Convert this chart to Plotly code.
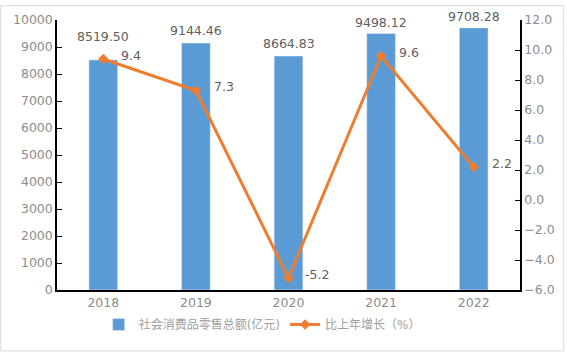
import plotly.graph_objects as go

years = ["2018", "2019", "2020", "2021", "2022"]
sales = [8519.50, 9144.46, 8664.83, 9498.12, 9708.28]
growth = [9.4, 7.3, -5.2, 9.6, 2.2]
bar_name = "社会消费品零售总额(亿元)"
line_name = "比上年增长（%）"

FONT = "DejaVu Sans, Noto Sans CJK SC, sans-serif"
BLUE = "#5B9BD5"
ORANGE = "#ED7D31"
TICK = "#8C8C8C"
LEG = "#A0A0A0"
LABEL = "#606060"

W, H = 567, 353
ML, MR, MT, MB = 57, 45, 15, 63
PW, PH = W - ML - MR, H - MT - MB

xi = list(range(len(years)))

fig = go.Figure()
fig.add_trace(go.Bar(x=xi, y=sales, name=bar_name, marker_color=BLUE,
                     width=0.31, yaxis="y"))
fig.add_trace(go.Scatter(x=xi, y=growth, name=line_name, mode="lines+markers",
                         line=dict(color=ORANGE, width=3),
                         marker=dict(symbol="diamond", size=8, color=ORANGE),
                         yaxis="y2"))

bar_label_shift = [14, 3, 3, 2, 2]
for x, v, s in zip(xi, sales, bar_label_shift):
    fig.add_annotation(x=x, xref="x", y=v, yref="y", text=f"{v:.2f}", showarrow=False,
                       yanchor="bottom", yshift=s,
                       font=dict(family=FONT, size=12.5, color=LABEL))
for x, v in zip(xi, growth):
    fig.add_annotation(x=x, xref="x", y=v, yref="y2", text=f"{v:.1f}", showarrow=False,
                       xshift=28, yshift=4,
                       font=dict(family=FONT, size=12.5, color=LABEL))

fig.add_shape(type="rect", xref="paper", yref="paper",
              x0=-ML / PW + 0.001, x1=1 + (MR - 1) / PW,
              y0=-(MB - 1) / PH, y1=1 + (MT - 0.5) / PH,
              line=dict(color="#D9D9D9", width=1), layer="below")

fig.update_layout(
    width=W, height=H,
    margin=dict(l=ML, r=MR, t=MT, b=MB),
    plot_bgcolor="white", paper_bgcolor="white",
    font=dict(family=FONT, size=12, color=TICK),
    showlegend=True,
    legend=dict(orientation="h", x=0.09, xanchor="left", y=-0.128, yanchor="middle",
                font=dict(family=FONT, size=12, color=LEG),
                bgcolor="rgba(0,0,0,0)", itemwidth=30, tracegroupgap=0),
    xaxis=dict(range=[-0.5, len(years) - 0.5], tickvals=xi, ticktext=years,
               showline=True, linecolor="black", linewidth=1.5,
               ticks="", tickfont=dict(size=12.5, color=TICK), showgrid=False,
               zeroline=False),
    yaxis=dict(range=[0, 10000], dtick=1000, tickformat="d", showline=True,
               linecolor="black", linewidth=1.5, ticks="inside", ticklen=5,
               tickcolor="black", showgrid=False, zeroline=False,
               tickfont=dict(size=12.5, color=TICK)),
    yaxis2=dict(range=[-6, 12], dtick=2, tickformat=".1f", overlaying="y",
                side="right", showline=True, linecolor="black", linewidth=1.5,
                ticks="inside", ticklen=5, tickcolor="black", showgrid=False,
                zeroline=False, tickfont=dict(size=12.5, color=TICK)),
)

fig.write_html("out.html")
